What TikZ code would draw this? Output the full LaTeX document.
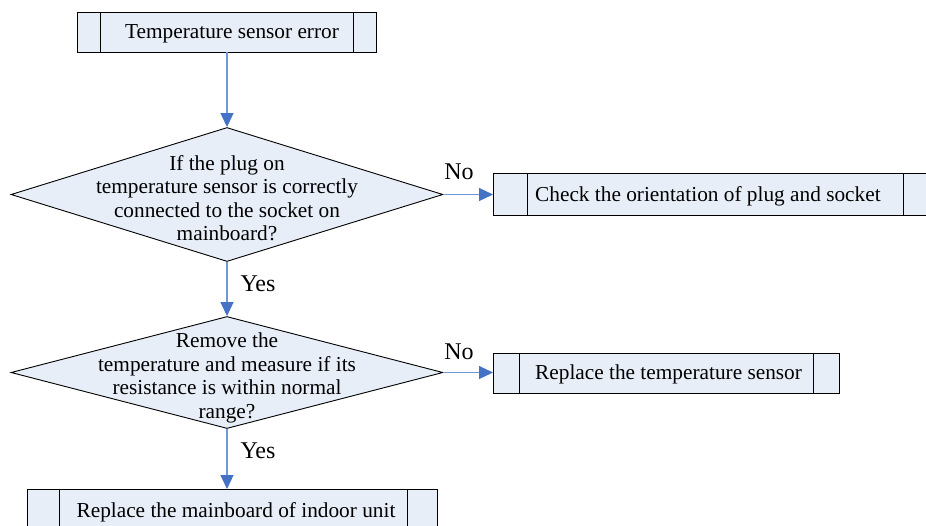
\documentclass[tikz,border=0pt]{standalone}
\usepackage{fontspec}
\setmainfont{Liberation Serif}
\usetikzlibrary{shapes.geometric,arrows.meta}
\definecolor{boxfill}{HTML}{E8EEF8}
\definecolor{arrowblue}{HTML}{4472C4}
\definecolor{linkblue}{HTML}{7297D6}
\tikzset{
  procbox/.style={draw=black, line width=0.9pt, fill=boxfill, inner sep=0pt, rectangle},
  decbox/.style={draw=black, line width=0.9pt, fill=boxfill, inner sep=0pt, shape=diamond},
  inner/.style={draw=black, line width=0.9pt},
  txt/.style={font=\fontsize{21.3}{23.5}\selectfont, inner sep=0pt, align=center},
  lbl/.style={font=\fontsize{24}{28}\selectfont, inner sep=0pt},
  flow/.style={draw=linkblue, line width=1.2pt, -{Triangle[length=14pt,width=13pt,color=arrowblue]}},
}
\begin{document}
\begin{tikzpicture}[x=1pt,y=-1pt]
\useasboundingbox (0,0) rectangle (926,525);
\clip (0,0) rectangle (926,525);
\fill[white] (0,0) rectangle (926,525);

% box 1
\node[procbox, minimum width=299pt, minimum height=40pt] (b1) at (226.5,32) {};
\draw[inner] ([xshift=24pt]b1.north west) -- ([xshift=24pt]b1.south west);
\draw[inner] ([xshift=-23pt]b1.north east) -- ([xshift=-23pt]b1.south east);
\node[txt] (t1) at (232,34) {Temperature sensor error};

% diamond 1
\node[decbox, minimum width=432pt, minimum height=134pt] (d1) at (227,194.5) {};
\node[txt] (dt1) at (227,198) {If the plug on\\temperature sensor is correctly\\connected to the socket on\\mainboard?};

% box 2
\node[procbox, minimum width=460pt, minimum height=42pt, anchor=north west] (b2) at (493,173) {};
\draw[inner] ([xshift=34pt]b2.north west) -- ([xshift=34pt]b2.south west);
\draw[inner] ([xshift=410pt]b2.north west) -- ([xshift=410pt]b2.south west);
\node[txt, anchor=west] (t2) at (535,196) {Check the orientation of plug and socket};

% diamond 2
\node[decbox, minimum width=432pt, minimum height=112pt] (d2) at (227,372.5) {};
\node[txt] (dt2) at (227,378) {Remove the\\temperature and measure if its\\resistance is within normal\\range?};

% box 3
\node[procbox, minimum width=346pt, minimum height=40pt, anchor=north west] (b3) at (493,353) {};
\draw[inner] ([xshift=26pt]b3.north west) -- ([xshift=26pt]b3.south west);
\draw[inner] ([xshift=-26pt]b3.north east) -- ([xshift=-26pt]b3.south east);
\node[txt, anchor=west] (t3) at (535,374) {Replace the temperature sensor};

% box 4
\node[procbox, minimum width=410pt, minimum height=50pt, anchor=north west] (b4) at (27,489) {};
\draw[inner] ([xshift=32pt]b4.north west) -- ([xshift=32pt]b4.south west);
\draw[inner] ([xshift=-30pt]b4.north east) -- ([xshift=-30pt]b4.south east);
\node[txt] (t4) at (236,512) {Replace the mainboard of indoor unit};

% connectors
\draw[flow] (b1.south -| d1.north) -- (d1.north);
\draw[flow] (d1.east) -- (b2.west |- d1.east);
\draw[flow] (d1.south) -- (d2.north);
\draw[flow] (d2.east) -- (b3.west |- d2.east);
\draw[flow] (d2.south) -- (b4.north -| d2.south);

% labels
\node[lbl] (no1) at (459,172) {No};
\node[lbl] (yes1) at (258,284) {Yes};
\node[lbl] (no2) at (459,352) {No};
\node[lbl] (yes2) at (258,451) {Yes};
\end{tikzpicture}
\end{document}
